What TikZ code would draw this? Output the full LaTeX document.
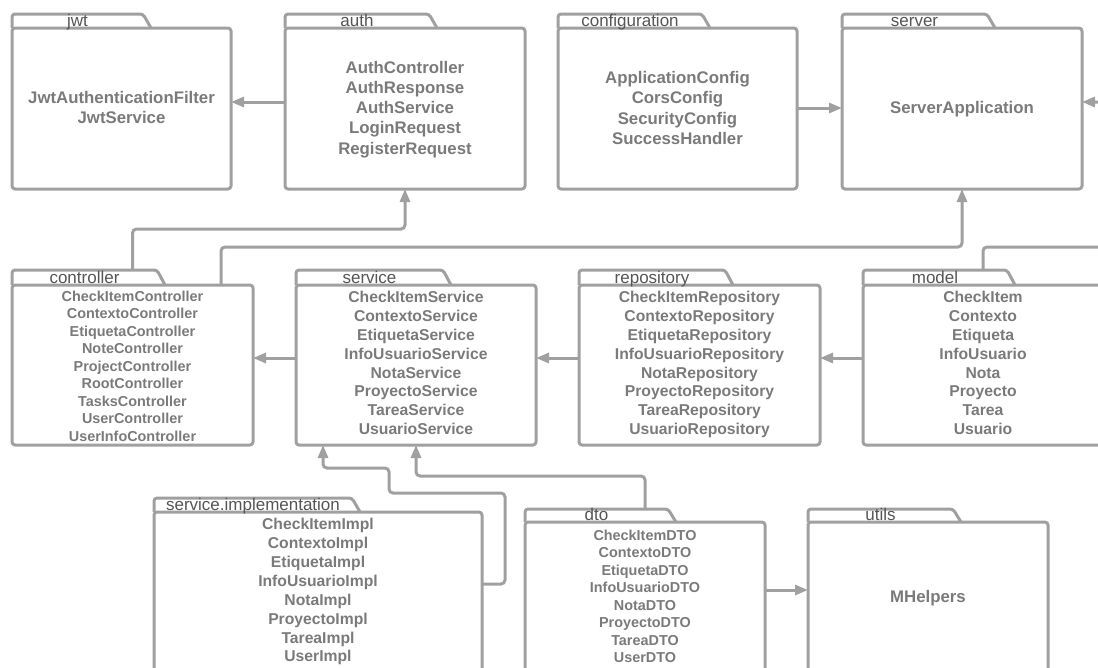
\documentclass[tikz,border=0pt]{standalone}
\usepackage{fontspec}
\setmainfont{Liberation Sans}
\usetikzlibrary{arrows.meta,fit}
\definecolor{lineg}{HTML}{A0A0A0}
\definecolor{textg}{HTML}{7A7A7A}
\definecolor{labg}{HTML}{555555}
\tikzset{
  pkgline/.style={draw=lineg, line width=3pt, rounded corners=3pt, line join=round},
  conn/.style={draw=lineg, line width=3pt, rounded corners=4pt, -{Triangle[length=13pt,width=10pt]}},
  pkglabel/.style={anchor=base, text=labg, font=\fontsize{17}{18}\selectfont, inner sep=0pt},
  itemsL/.style={anchor=north, align=center, text=textg, inner sep=0pt, font=\bfseries\fontsize{16.8}{20.3}\selectfont},
  itemsM/.style={anchor=north, align=center, text=textg, inner sep=0pt, font=\bfseries\fontsize{15.7}{18.85}\selectfont},
  itemsS/.style={anchor=north, align=center, text=textg, inner sep=0pt, font=\bfseries\fontsize{14.4}{17.45}\selectfont},
}
% #1 name, #2 left, #3 tab top, #4 body top, #5 right, #6 bottom, #7 tab right, #8 label
\newcommand{\pkgfolder}[8]{%
  \node[fit={(#2,#4) (#5,#6)}, inner sep=0pt, outer sep=0pt] (#1) {};
  \coordinate (#1-tabtop) at (#2,#3);
  \draw[pkgline] (#2,#4) rectangle (#5,#6);
  \draw[pkgline] (#2,#4) -- (#2,#3) -- (#7,#3) -- ({#7+8},#4);
  \node[pkglabel] (#1-lbl) at ({(#2+#7)/2},{#4-1.5}) {#8};
}
\begin{document}
\begin{tikzpicture}[x=1pt,y=-1pt]
\useasboundingbox (0,0) rectangle (1098,667);
% packages
\pkgfolder{jwt}{12}{14}{28}{231}{189}{143}{jwt}
\pkgfolder{auth}{285}{14}{28}{525}{189}{429}{auth}
\pkgfolder{config}{558}{14}{28}{797}{189}{702}{configuration}
\pkgfolder{server}{842}{14}{28}{1082}{189}{987}{server}
\pkgfolder{controller}{12}{270}{285}{253}{445}{157}{controller}
\pkgfolder{service}{296}{270}{285}{536}{445}{443}{service}
\pkgfolder{repository}{579}{270}{285}{820}{445}{725}{repository}
\pkgfolder{model}{863}{270}{285}{1103}{445}{1007}{model}
\pkgfolder{simpl}{154}{498}{512}{482}{672}{352}{service.implementation}
\pkgfolder{dto}{525}{509}{522}{765}{672}{668}{dto}
\pkgfolder{utils}{808}{509}{522}{1048}{672}{953}{utils}
% contents
\node[itemsL] (jwt-txt) at (121.5,91.3) {JwtAuthenticationFilter\\JwtService};
\node[itemsL] (auth-txt) at (405,60.7) {AuthController\\AuthResponse\\AuthService\\LoginRequest\\RegisterRequest};
\node[itemsL] (config-txt) at (677.5,71.3) {ApplicationConfig\\CorsConfig\\SecurityConfig\\SuccessHandler};
\node[itemsL] (server-txt) at (962,101.3) {ServerApplication};
\node[itemsS] (controller-txt) at (132.5,290.8) {CheckItemController\\ContextoController\\EtiquetaController\\NoteController\\ProjectController\\RootController\\TasksController\\UserController\\UserInfoController};
\node[itemsM] (service-txt) at (416,291.1) {CheckItemService\\ContextoService\\EtiquetaService\\InfoUsuarioService\\NotaService\\ProyectoService\\TareaService\\UsuarioService};
\node[itemsM] (repository-txt) at (699.5,291.1) {CheckItemRepository\\ContextoRepository\\EtiquetaRepository\\InfoUsuarioRepository\\NotaRepository\\ProyectoRepository\\TareaRepository\\UsuarioRepository};
\node[itemsM] (model-txt) at (983,291.1) {CheckItem\\Contexto\\Etiqueta\\InfoUsuario\\Nota\\Proyecto\\Tarea\\Usuario};
\node[itemsM] (simpl-txt) at (318,518.4) {CheckItemImpl\\ContextoImpl\\EtiquetaImpl\\InfoUsuarioImpl\\NotaImpl\\ProyectoImpl\\TareaImpl\\UserImpl};
\node[itemsS] (dto-txt) at (645,529.8) {CheckItemDTO\\ContextoDTO\\EtiquetaDTO\\InfoUsuarioDTO\\NotaDTO\\ProyectoDTO\\TareaDTO\\UserDTO};
\node[itemsL] (utils-txt) at (928,589.7) {MHelpers};
% routing levels
\coordinate (lvlR) at (0,102);
\coordinate (lvlS) at (0,108);
\coordinate (lvlA) at (0,229);
\coordinate (lvlB) at (0,247);
\coordinate (lvlM) at (0,358);
\coordinate (lvlD) at (0,476);
\coordinate (lvlI) at (0,584);
\coordinate (lvlU) at (0,590);
\coordinate (offR) at (1115,0);
\coordinate (bI1) at (505,493);
\coordinate (bI2) at (389,468);
\coordinate (bI3) at (323,0);
% connectors
\draw[conn] (auth.west |- lvlR) -- (jwt.east |- lvlR);
\draw[conn] (config.east |- lvlS) -- (server.west |- lvlS);
\draw[conn] (model.center |- model-tabtop) |- (offR |- lvlB) |- (server.east |- lvlR);
\draw[conn] (controller.center |- controller-tabtop) |- (auth.south |- lvlA) -- (auth.south);
\draw[conn] ([xshift=-32pt]controller.north east) |- (server.south |- lvlB) -- (server.south);
\draw[conn] (service.west |- lvlM) -- (controller.east |- lvlM);
\draw[conn] (repository.west |- lvlM) -- (service.east |- lvlM);
\draw[conn] (model.west |- lvlM) -- (repository.east |- lvlM);
\draw[conn] (simpl.east |- lvlI) -| (bI1) -| (bI2) -| (bI3 |- service.south);
\draw[conn] (dto.center |- dto-tabtop) |- (service.south |- lvlD) -- (service.south);
\draw[conn] (dto.east |- lvlU) -- (utils.west |- lvlU);
\end{tikzpicture}
\end{document}
